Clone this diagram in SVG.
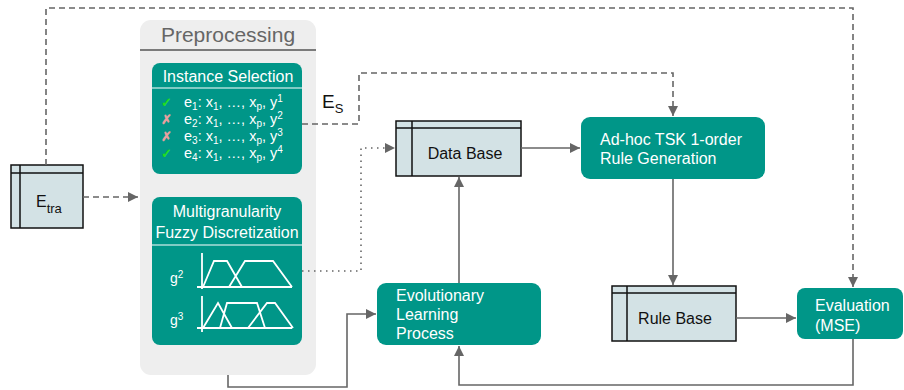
<svg xmlns="http://www.w3.org/2000/svg" width="904" height="390" viewBox="0 0 904 390">
<defs>
<style>
text{font-family:"Liberation Sans",Arial,sans-serif}
.teal{fill:#009688}
.wt{fill:#ffffff;font-size:16px}
.db{fill:#d3e2e5;stroke:#111;stroke-width:1.5}
.dbl{stroke:#111;stroke-width:1.5;fill:none}
.dk{fill:#111;font-size:16px}
.c{fill:none;stroke:#666;stroke-width:1.6}
.dash{stroke-dasharray:6 4}
.dot{stroke-dasharray:1.5 4.5}
.mf{fill:none;stroke:#fff;stroke-width:1.8}
.row{fill:#fff;font-size:14.5px}
.sub{font-size:10px}
</style>
<marker id="ah" viewBox="0 0 10 10" refX="10" refY="5" markerWidth="10" markerHeight="10" markerUnits="userSpaceOnUse" orient="auto">
<path d="M0,0 L10,5 L0,10 z" fill="#666"/>
</marker>
</defs>

<g id="preprocessing">
<rect x="140" y="20" width="176" height="355" rx="11" fill="#eeeeee"/>
<text x="228" y="42" text-anchor="middle" font-size="21" fill="#666">Preprocessing</text>
<line x1="140" y1="50" x2="316" y2="50" stroke="#555" stroke-width="1.5"/>
</g>

<g id="instance-selection">
<rect class="teal" x="152" y="63" width="150" height="111" rx="8"/>
<text class="wt" x="228" y="82" text-anchor="middle">Instance Selection</text>
<line x1="152" y1="88" x2="302" y2="88" stroke="#fff" stroke-width="1.2"/>
<text x="161" y="107" font-size="13" fill="#22dd22" font-weight="bold">✓</text>
<text x="161" y="124" font-size="13" fill="#e8a0a0" font-weight="bold">✗</text>
<text x="161" y="141" font-size="13" fill="#e8a0a0" font-weight="bold">✗</text>
<text x="161" y="158" font-size="13" fill="#22dd22" font-weight="bold">✓</text>
<text class="row" x="184" y="107">e<tspan class="sub" dy="3">1</tspan><tspan dy="-3">: x</tspan><tspan class="sub" dy="3">1</tspan><tspan dy="-3">, …, x</tspan><tspan class="sub" dy="3">p</tspan><tspan dy="-3">, y</tspan><tspan class="sub" dy="-5">1</tspan></text>
<text class="row" x="184" y="124">e<tspan class="sub" dy="3">2</tspan><tspan dy="-3">: x</tspan><tspan class="sub" dy="3">1</tspan><tspan dy="-3">, …, x</tspan><tspan class="sub" dy="3">p</tspan><tspan dy="-3">, y</tspan><tspan class="sub" dy="-5">2</tspan></text>
<text class="row" x="184" y="141">e<tspan class="sub" dy="3">3</tspan><tspan dy="-3">: x</tspan><tspan class="sub" dy="3">1</tspan><tspan dy="-3">, …, x</tspan><tspan class="sub" dy="3">p</tspan><tspan dy="-3">, y</tspan><tspan class="sub" dy="-5">3</tspan></text>
<text class="row" x="184" y="158">e<tspan class="sub" dy="3">4</tspan><tspan dy="-3">: x</tspan><tspan class="sub" dy="3">1</tspan><tspan dy="-3">, …, x</tspan><tspan class="sub" dy="3">p</tspan><tspan dy="-3">, y</tspan><tspan class="sub" dy="-5">4</tspan></text>
</g>

<g id="fuzzy-discretization">
<rect class="teal" x="152" y="197" width="150" height="148" rx="8"/>
<text class="wt" x="227" y="217" text-anchor="middle" font-size="17">Multigranularity</text>
<text class="wt" x="227" y="238" text-anchor="middle" font-size="17">Fuzzy Discretization</text>
<line x1="152" y1="245" x2="302" y2="245" stroke="#fff" stroke-width="1.2"/>
<text x="170" y="283" font-size="14" fill="#fff">g<tspan class="sub" dy="-5">2</tspan></text>
<text x="170" y="325" font-size="14" fill="#fff">g<tspan class="sub" dy="-5">3</tspan></text>
<path class="mf" d="M202,253 V289 M197,287 H292"/>
<path class="mf" d="M203,287 L214,261 L227,261 L242,287 M229,287 L245,261 L273,261 L292,287"/>
<path class="mf" d="M202,296 V332 M197,328 H292"/>
<path class="mf" d="M203,328 L218,303 L232,328 M220,328 L227,303 L257,303 L265,328 M248,328 L267,303 L275,303 L293,328"/>
</g>

<g id="etra">
<rect class="db" x="11" y="165" width="72" height="63"/>
<path class="dbl" d="M11,173 H83 M20,165 V228"/>
<text class="dk" x="36" y="207" font-size="20">E<tspan font-size="13" dy="6">tra</tspan></text>
</g>

<g id="data-base">
<rect class="db" x="396" y="121" width="125" height="55"/>
<path class="dbl" d="M396,128 H521 M412,121 V176"/>
<text class="dk" x="465" y="159" text-anchor="middle">Data Base</text>
</g>

<g id="tsk">
<rect class="teal" x="581" y="117" width="184" height="62" rx="9"/>
<text class="wt" x="600" y="145">Ad-hoc TSK 1-order</text>
<text class="wt" x="600" y="164">Rule Generation</text>
</g>

<g id="rule-base">
<rect class="db" x="612" y="286" width="124" height="55"/>
<path class="dbl" d="M612,293 H736 M627,286 V341"/>
<text class="dk" x="675" y="324" text-anchor="middle">Rule Base</text>
</g>

<g id="evaluation">
<rect class="teal" x="797" y="288" width="106" height="51" rx="8"/>
<text class="wt" x="815" y="311" font-size="17">Evaluation</text>
<text class="wt" x="815" y="331" font-size="17">(MSE)</text>
</g>

<g id="evolutionary">
<rect class="teal" x="377" y="283" width="164" height="62" rx="9"/>
<text class="wt" x="396" y="301" font-size="17">Evolutionary</text>
<text class="wt" x="396" y="320" font-size="17">Learning</text>
<text class="wt" x="396" y="339" font-size="17">Process</text>
</g>

<g id="connectors">
<path class="c dash" d="M83,197 H138" marker-end="url(#ah)"/>
<path class="c dash" d="M46,165 V8 H853 V287" marker-end="url(#ah)"/>
<path class="c dash" d="M302,124 H359 V73 H673 V116" marker-end="url(#ah)"/>
<path class="c dot" d="M302,271 H361 V148 H395" marker-end="url(#ah)"/>
<path class="c" d="M521,148 H580" marker-end="url(#ah)"/>
<path class="c" d="M673,179 V285" marker-end="url(#ah)"/>
<path class="c" d="M736,318 H796" marker-end="url(#ah)"/>
<path class="c" d="M853,339 V385 H459 V346" marker-end="url(#ah)"/>
<path class="c" d="M459,283 V177" marker-end="url(#ah)"/>
<path class="c" d="M228,375 V387 H347 V314 H376" marker-end="url(#ah)"/>
<text x="322" y="108" font-size="19" fill="#111">E<tspan font-size="13" dy="5">S</tspan></text>
</g>
</svg>
